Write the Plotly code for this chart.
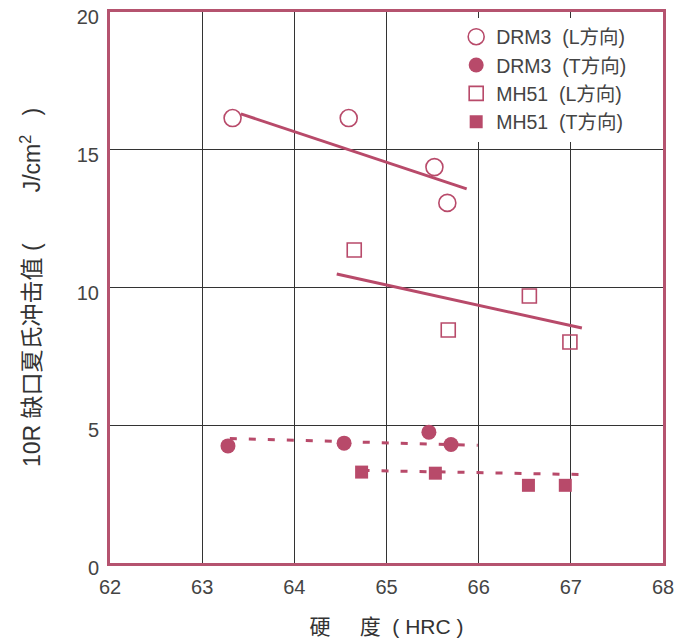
import plotly.graph_objects as go

# Data
drm3_L_x = [63.33, 64.59, 65.52, 65.66]
drm3_L_y = [16.15, 16.15, 14.37, 13.07]
drm3_T_x = [63.28, 64.54, 65.46, 65.70]
drm3_T_y = [4.25, 4.35, 4.75, 4.30]
mh51_L_x = [64.65, 65.67, 66.55, 66.99]
mh51_L_y = [11.36, 8.46, 9.69, 8.02]
mh51_T_x = [64.73, 65.53, 66.54, 66.94]
mh51_T_y = [3.30, 3.26, 2.82, 2.82]

# Trend lines (endpoints)
drm3_L_fit_x = [63.42, 65.87]
drm3_L_fit_y = [16.30, 13.58]
mh51_L_fit_x = [64.46, 67.12]
mh51_L_fit_y = [10.49, 8.53]
drm3_T_fit_x = [63.30, 65.99]
drm3_T_fit_y = [4.52, 4.27]
mh51_T_fit_x = [64.74, 67.12]
mh51_T_fit_y = [3.36, 3.21]

x_ticks = [62, 63, 64, 65, 66, 67, 68]
y_ticks = [0, 5, 10, 15, 20]

C = "#b84a6a"
FRAME = "#b5536f"
FONT = "Liberation Sans, Arial, Noto Sans CJK SC, sans-serif"
NB = "\u00a0"

fig = go.Figure()

# trend lines
fig.add_trace(go.Scatter(x=drm3_L_fit_x, y=drm3_L_fit_y, mode="lines",
                         line=dict(color=C, width=3), showlegend=False, hoverinfo="skip"))
fig.add_trace(go.Scatter(x=mh51_L_fit_x, y=mh51_L_fit_y, mode="lines",
                         line=dict(color=C, width=3), showlegend=False, hoverinfo="skip"))
fig.add_trace(go.Scatter(x=drm3_T_fit_x, y=drm3_T_fit_y, mode="lines",
                         line=dict(color=C, width=3, dash="7px,12px"), showlegend=False, hoverinfo="skip"))
fig.add_trace(go.Scatter(x=mh51_T_fit_x, y=mh51_T_fit_y, mode="lines",
                         line=dict(color=C, width=3, dash="7px,12px"), showlegend=False, hoverinfo="skip"))

# markers
fig.add_trace(go.Scatter(x=drm3_L_x, y=drm3_L_y, mode="markers", name="DRM3" + NB + NB + "(L方向)",
                         marker=dict(symbol="circle-open", size=17, color=C, line=dict(width=1.6, color=C))))
fig.add_trace(go.Scatter(x=drm3_T_x, y=drm3_T_y, mode="markers", name="DRM3" + NB + NB + "(T方向)",
                         marker=dict(symbol="circle", size=15, color=C, line=dict(width=0))))
fig.add_trace(go.Scatter(x=mh51_L_x, y=mh51_L_y, mode="markers", name="MH51" + NB + NB + "(L方向)",
                         marker=dict(symbol="square-open", size=14, color=C, line=dict(width=1.6, color=C))))
fig.add_trace(go.Scatter(x=mh51_T_x, y=mh51_T_y, mode="markers", name="MH51" + NB + NB + "(T方向)",
                         marker=dict(symbol="square", size=13, color=C, line=dict(width=0))))

fig.update_layout(
    width=696, height=641,
    margin=dict(l=110, r=33, t=12, b=78),
    paper_bgcolor="white", plot_bgcolor="white",
    font=dict(family=FONT, size=20, color="#444"),
    legend=dict(x=0.626, y=0.99, xanchor="left", yanchor="top",
                bgcolor="white", borderwidth=0, font=dict(size=19.5, color="#444"),
                tracegroupgap=0, itemwidth=30),
    xaxis=dict(range=[62, 68], tickvals=x_ticks, ticks="", showgrid=True,
               gridcolor="#333", gridwidth=1, zeroline=False, automargin=False,
               showline=True, linecolor=FRAME, linewidth=3, mirror=True,
               tickfont=dict(size=20, color="#444"), ticklabelstandoff=4,
               title=dict(text="硬" + NB * 5 + "度" + NB * 2 + "(" + NB + "HRC" + NB + ")",
                          font=dict(size=21, color="#333"), standoff=23)),
    yaxis=dict(range=[0, 20], tickvals=y_ticks, ticks="", showgrid=True,
               gridcolor="#333", gridwidth=1, zeroline=False, automargin=False,
               showline=True, linecolor=FRAME, linewidth=3, mirror=True,
               tickfont=dict(size=20, color="#444"), ticklabelstandoff=4, ticklabelshift=5,
               title=dict(text="10R" + NB + "缺口夏氏冲击值" + NB + "(" + NB * 8 + "J/cm<sup>2</sup>" + NB * 3 + ")",
                          font=dict(size=23, color="#333"), standoff=30)),
)

fig.write_html("out.html", config={"displayModeBar": False},
               post_script="document.body.style.margin='0px';")
